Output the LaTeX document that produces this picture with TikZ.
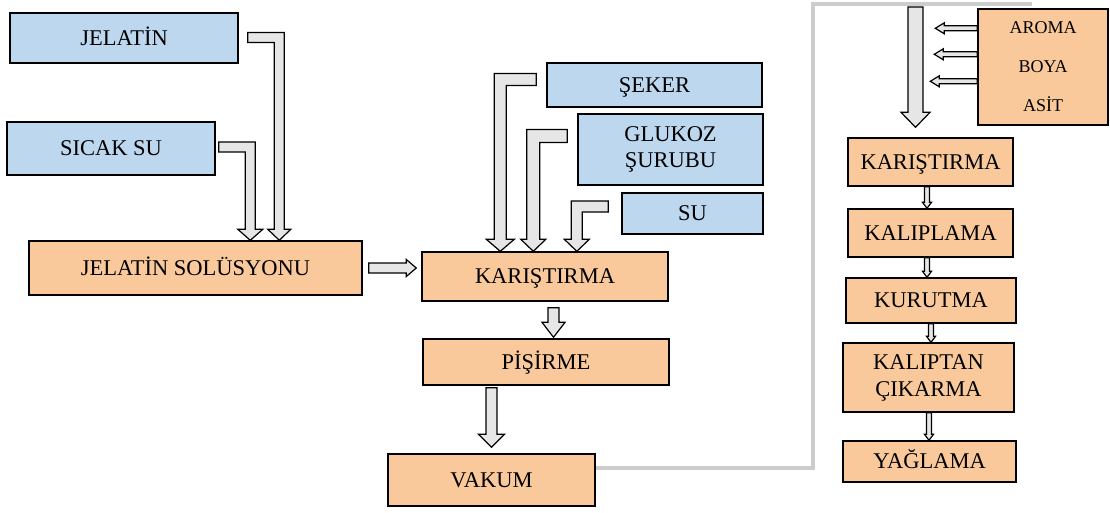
\documentclass[tikz,border=0pt]{standalone}
\usepackage{fontspec}
\setmainfont{Liberation Serif}
\usetikzlibrary{calc}

\definecolor{inblue}{HTML}{BDD7EE}
\definecolor{stepor}{HTML}{F9C99C}
\definecolor{arrowgray}{HTML}{E6E6E6}
\definecolor{feedgray}{HTML}{CCCCCC}

\tikzset{
  box/.style={draw=black, line width=1.4pt, inner sep=0pt, align=center,
    font=\fontsize{22.5}{26}\selectfont},
  oneline/.style={text height=14.9pt, text depth=0pt},
  inbox/.style={box, fill=inblue},
  stepbox/.style={box, fill=stepor},
  blockarrow/.style={draw=black, fill=arrowgray, line width=1.2pt, line join=miter},
  feedline/.style={draw=feedgray, line width=4pt, line join=miter}
}

% straight block arrow pointing down: start (top centre), tip, half shaft, half head, head length
\newcommand\barrowdown[5]{%
  \path[blockarrow] let \p1=#1, \p2=#2 in
    ({\x1-#3pt},\y1) -- ({\x1+#3pt},\y1) -- ({\x1+#3pt},{\y2+#5pt}) -- ({\x1+#4pt},{\y2+#5pt})
    -- (\x1,\y2) -- ({\x1-#4pt},{\y2+#5pt}) -- ({\x1-#3pt},{\y2+#5pt}) -- cycle;}

% horizontal block arrow: start, tip, direction (1 right, -1 left), half shaft, half head, head length
\newcommand\barrowh[6]{%
  \path[blockarrow] let \p1=#1, \p2=#2 in
    (\x1,{\y1+#4pt}) -- ({\x2-(#3)*#6pt},{\y1+#4pt}) -- ({\x2-(#3)*#6pt},{\y1+#5pt})
    -- (\x2,\y1) -- ({\x2-(#3)*#6pt},{\y1-#5pt}) -- ({\x2-(#3)*#6pt},{\y1-#4pt})
    -- (\x1,{\y1-#4pt}) -- cycle;}

% L-shaped block arrow: sideways first, then down to the tip
\newcommand\barrowL[6]{%
  \path[blockarrow] let \p1=#1, \p2=#2 in
    (\x1,{\y1+#4pt}) -- ({\x2+(#3)*#4pt},{\y1+#4pt}) -- ({\x2+(#3)*#4pt},{\y2+#6pt})
    -- ({\x2+(#3)*#5pt},{\y2+#6pt}) -- (\x2,\y2) -- ({\x2-(#3)*#5pt},{\y2+#6pt})
    -- ({\x2-(#3)*#4pt},{\y2+#6pt}) -- ({\x2-(#3)*#4pt},{\y1-#4pt}) -- (\x1,{\y1-#4pt}) -- cycle;}

\begin{document}
\begin{tikzpicture}[x=1pt, y=-1pt]
\useasboundingbox (0,0) rectangle (1110,513);

% ingredients
\node[inbox, oneline, minimum width=228pt, minimum height=50pt] (jel) at (124,38) {JELATİN};
\node[inbox, oneline, minimum width=208pt, minimum height=53pt] (sicak) at (111,148.5) {SICAK SU};
\node[inbox, oneline, minimum width=215pt, minimum height=44pt] (seker) at (654.5,85) {ŞEKER};
\node[inbox, minimum width=185pt, minimum height=71pt] (glu) at (670.5,149.5) {GLUKOZ\\ŞURUBU};
\node[inbox, oneline, minimum width=141pt, minimum height=41pt] (su) at (692.5,213.5) {SU};

% first process line
\node[stepbox, oneline, minimum width=333pt, minimum height=54pt] (sol) at (195.5,268) {JELATİN SOLÜSYONU};
\node[stepbox, oneline, minimum width=246pt, minimum height=49pt] (kar1) at (545,276.5) {KARIŞTIRMA};
\node[stepbox, oneline, minimum width=246pt, minimum height=46pt] (pis) at (546,362) {PİŞİRME};
\node[stepbox, oneline, minimum width=207pt, minimum height=52pt] (vak) at (491.5,480) {VAKUM};

% additives and second process line
\node[stepbox, minimum width=130pt, minimum height=116pt, font=\fontsize{18}{39}\selectfont] (aroma) at (1043,67) {AROMA\\BOYA\\ASİT};
\node[stepbox, oneline, minimum width=165pt, minimum height=48pt] (kar2) at (930.5,162) {KARIŞTIRMA};
\node[stepbox, oneline, minimum width=165pt, minimum height=48pt] (kal) at (930.5,233) {KALIPLAMA};
\node[stepbox, oneline, minimum width=170pt, minimum height=45pt] (kur) at (931,300.5) {KURUTMA};
\node[stepbox, minimum width=171pt, minimum height=69pt, font=\fontsize{22.5}{27}\selectfont] (cik) at (928.5,377.5) {KALIPTAN\\ÇIKARMA};
\node[stepbox, oneline, minimum width=173pt, minimum height=41pt] (yag) at (929.5,461.5) {YAĞLAMA};

% transfer line from the vacuum step to the second mixing step
\coordinate (fcorner) at (813,4);
\coordinate (fend) at (1032,4);
\coordinate (feed) at (915.5,7);
\draw[feedline] ($(vak.east)+(0,-12)$) -| (fcorner) -- (fend);

% gelatine solution
\barrowL{($(jel.east)+(9,-0.5)$)}{($(sol.north west)+(251,0)$)}{1}{5}{11.5}{11}
\barrowL{($(sicak.east)+(3,-1.5)$)}{($(sol.north west)+(222,0)$)}{1}{5}{12.5}{11}
\barrowh{($(sol.east)+(6,0)$)}{($(kar1.west)+(-5,0)$)}{1}{5}{8.5}{10}

% sugar, glucose syrup and water into mixing
\barrowL{($(seker.west)+(-10,-5.5)$)}{($(kar1.north west)+(79,0)$)}{-1}{6}{14}{12}
\barrowL{($(glu.west)+(-10,-13.5)$)}{($(kar1.north west)+(112,0)$)}{-1}{6.5}{12.5}{12}
\barrowL{($(su.west)+(-13,-7)$)}{($(kar1.north west)+(155.5,0)$)}{-1}{5.5}{12.5}{12}

% cooking and vacuum
\barrowdown{($(kar1.south)+(8.5,6)$)}{($(pis.north)+(7.5,-1)$)}{5.5}{11.5}{15}
\barrowdown{($(pis.south)+(-54.5,2)$)}{($(vak.north)+(0,-6)$)}{5.5}{13}{13}

% second line
\barrowdown{(feed)}{($(kar2.north)+(-15,-10)$)}{7.5}{14.5}{15}
\barrowh{($(aroma.north west)+(0,20)$)}{($(aroma.north west)+(-42,20)$)}{-1}{2.5}{5.5}{9}
\barrowh{($(aroma.north west)+(0,46)$)}{($(aroma.north west)+(-43,46)$)}{-1}{2.5}{5.5}{9}
\barrowh{($(aroma.north west)+(0,73)$)}{($(aroma.north west)+(-47,73)$)}{-1}{2.5}{5.5}{9}

\barrowdown{($(kar2.south)+(-3.5,0)$)}{(kal.north)}{2.5}{4.5}{6}
\barrowdown{($(kal.south)+(-3.5,0)$)}{(kur.north)}{2.5}{4.5}{6}
\barrowdown{(kur.south)}{(cik.north)}{2.5}{4.5}{6}
\barrowdown{($(cik.south)+(0.5,0)$)}{(yag.north)}{2.5}{4.5}{6}
\end{tikzpicture}
\end{document}
